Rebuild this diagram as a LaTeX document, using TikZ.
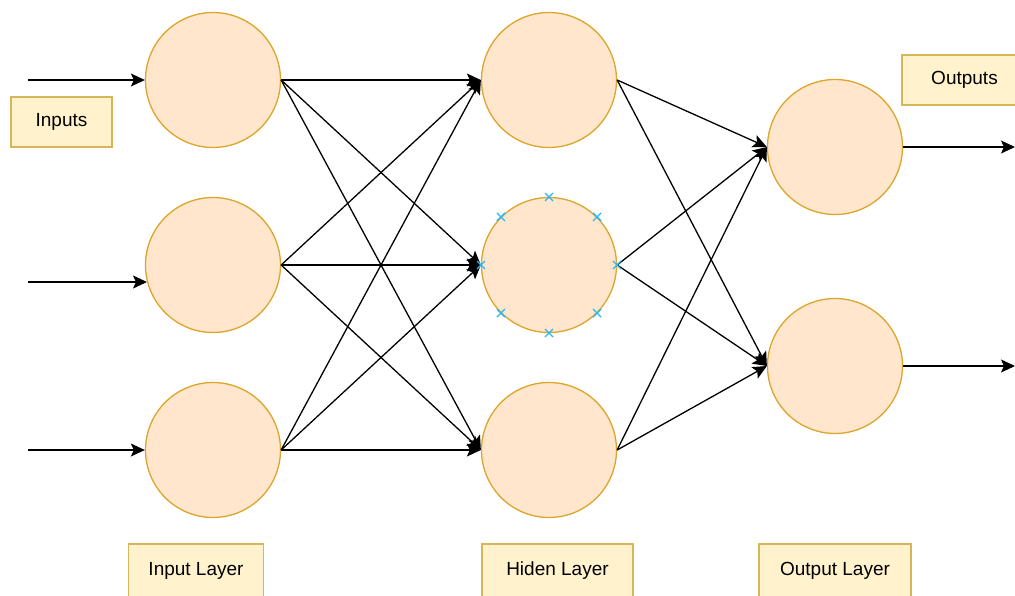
\documentclass[tikz,border=0pt]{standalone}
\usepackage{fontspec}
\setmainfont{Liberation Sans}
\usetikzlibrary{arrows.meta,calc}
\definecolor{nfill}{HTML}{FFE6CC}
\definecolor{ndraw}{HTML}{DDA52A}
\definecolor{lfill}{HTML}{FFF2CC}
\definecolor{ldraw}{HTML}{D6B656}
\definecolor{handle}{HTML}{29B6F2}
\begin{document}
\begin{tikzpicture}[x=1pt,y=-1pt,
  neuron/.style={circle,fill=nfill,draw=ndraw,line width=1.3pt,minimum size=135pt,inner sep=0pt},
  labelbox/.style={rectangle,fill=lfill,draw=ldraw,line width=1.3pt,inner sep=0pt,font=\fontsize{19}{22}\selectfont},
  conn/.style={line width=1.3pt,-{Stealth[length=14pt,width=13pt,inset=3pt]}},
  handlemark/.style={draw=handle,line width=1.3pt}
]
\useasboundingbox (0,0) rectangle (1015,595);
% neurons
\node[neuron] (i1) at (213,80) {};
\node[neuron] (i2) at (213,265) {};
\node[neuron] (i3) at (213,450) {};
\node[neuron] (h1) at (549,80) {};
\node[neuron] (h2) at (549,265) {};
\node[neuron] (h3) at (549,450) {};
\node[neuron] (o1) at (835,147) {};
\node[neuron] (o2) at (835,366) {};
% labels
\node[labelbox,minimum width=101pt,minimum height=50pt] (lin) at (61.5,122) {Inputs};
\node[labelbox,minimum width=125pt,minimum height=50pt] (lout) at (964.5,80) {Outputs};
\node[labelbox,minimum width=135pt,minimum height=54pt] (lil) at (196,571) {Input Layer};
\node[labelbox,minimum width=151pt,minimum height=54pt] (lhl) at (557.5,571) {Hiden Layer};
\node[labelbox,minimum width=152pt,minimum height=54pt] (lol) at (835,571) {Output Layer};
% free ends
\coordinate (a1) at (28,80);
\coordinate (a2) at (28,282);
\coordinate (a3) at (28,450);
\coordinate (e1) at (1015,147);
\coordinate (e2) at (1015,366);
\coordinate (i2in) at (147,282);
% input arrows
\draw[conn] (a1) -- (i1.west);
\draw[conn] (a2) -- (i2in);
\draw[conn] (a3) -- (i3.west);
% input to hidden
\foreach \a in {i1,i2,i3}{
  \foreach \b in {h1,h2,h3}{
    \draw[conn] (\a.east) -- (\b.west);
  }
}
% hidden to output
\foreach \a in {h1,h2,h3}{
  \foreach \b in {o1,o2}{
    \draw[conn] (\a.east) -- (\b.west);
  }
}
% output arrows
\draw[conn] (o1.east) -- (e1);
\draw[conn] (o2.east) -- (e2);
% selection handles on middle hidden neuron
\foreach \ang in {0,45,...,315}{
  \draw[handlemark] ($(h2.center)+(\ang:68)+(-4,-4)$) -- ++(8,8) ($(h2.center)+(\ang:68)+(-4,4)$) -- ++(8,-8);
}
\end{tikzpicture}
\end{document}
